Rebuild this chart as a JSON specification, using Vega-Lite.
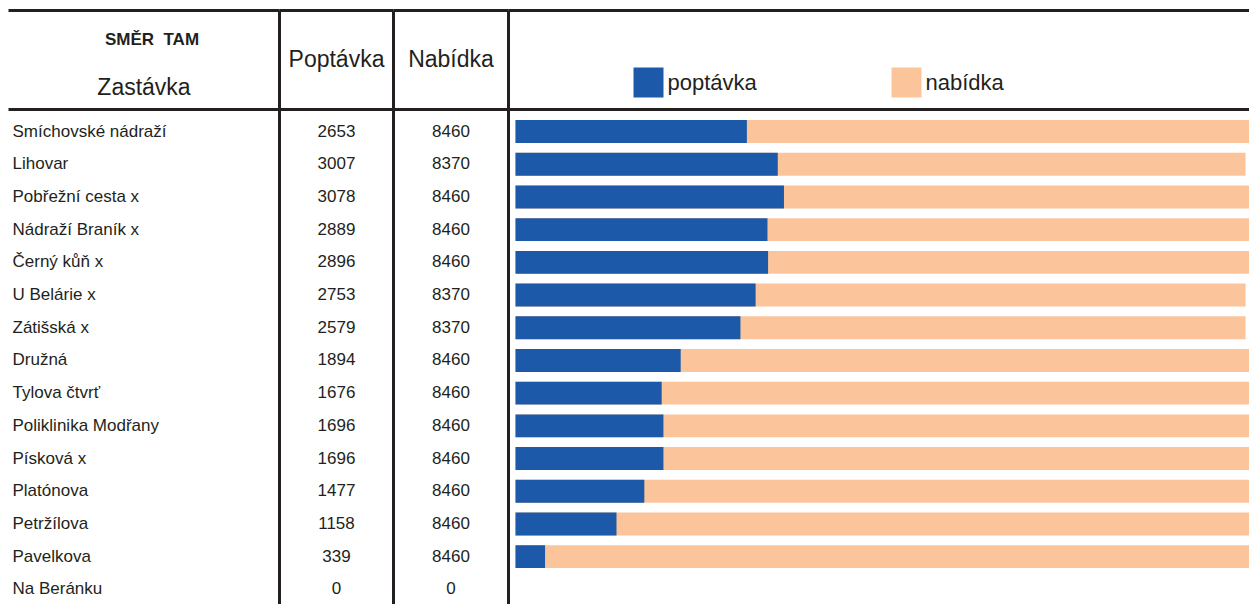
{
  "$schema": "https://vega.github.io/schema/vega-lite/v6.json",
  "padding": {"left": 6.5, "top": 8.5, "right": 0, "bottom": 0},
  "background": "white",
  "config": {
    "view": {"stroke": null},
    "font": "Liberation Sans",
    "text": {"color": "#231f20", "font": "Liberation Sans"},
    "rule": {"color": "#231f20", "strokeWidth": 3}
  },
  "datasets": {
    "rows": [
      {"zastavka": "Smíchovské nádraží", "poptavka": 2653, "nabidka": 8460},
      {"zastavka": "Lihovar", "poptavka": 3007, "nabidka": 8370},
      {"zastavka": "Pobřežní cesta x", "poptavka": 3078, "nabidka": 8460},
      {"zastavka": "Nádraží Braník x", "poptavka": 2889, "nabidka": 8460},
      {"zastavka": "Černý kůň x", "poptavka": 2896, "nabidka": 8460},
      {"zastavka": "U Belárie x", "poptavka": 2753, "nabidka": 8370},
      {"zastavka": "Zátišská x", "poptavka": 2579, "nabidka": 8370},
      {"zastavka": "Družná", "poptavka": 1894, "nabidka": 8460},
      {"zastavka": "Tylova čtvrť", "poptavka": 1676, "nabidka": 8460},
      {"zastavka": "Poliklinika Modřany", "poptavka": 1696, "nabidka": 8460},
      {"zastavka": "Písková x", "poptavka": 1696, "nabidka": 8460},
      {"zastavka": "Platónova", "poptavka": 1477, "nabidka": 8460},
      {"zastavka": "Petržílova", "poptavka": 1158, "nabidka": 8460},
      {"zastavka": "Pavelkova", "poptavka": 339, "nabidka": 8460},
      {"zastavka": "Na Beránku", "poptavka": 0, "nabidka": 0}
    ],
    "one": [{}]
  },
  "columns": 4,
  "spacing": 0,
  "bounds": "flush",
  "align": "each",
  "concat": [
    {
      "width": 271, "height": 99,
      "data": {"name": "one"},
      "layer": [
        {"mark": "rule", "encoding": {"y": {"datum": 1, "type": "quantitative", "scale": {"domain": [0, 1]}, "axis": null}}},
        {"mark": "rule", "encoding": {"y": {"datum": 0, "type": "quantitative", "scale": {"domain": [0, 1]}, "axis": null}}},
        {"mark": {"type": "text", "text": "SMĚR\u00a0\u00a0TAM", "fontSize": 17, "fontWeight": "bold", "baseline": "middle", "dx": 8},
         "encoding": {"y": {"datum": 0.707, "type": "quantitative", "scale": {"domain": [0, 1]}, "axis": null}}},
        {"mark": {"type": "text", "text": "Zastávka", "fontSize": 23, "baseline": "middle"},
         "encoding": {"y": {"datum": 0.217, "type": "quantitative", "scale": {"domain": [0, 1]}, "axis": null}}}
      ]
    },
    {
      "width": 114, "height": 99,
      "data": {"name": "one"},
      "layer": [
        {"mark": "rule", "encoding": {"y": {"datum": 1, "type": "quantitative", "scale": {"domain": [0, 1]}, "axis": null}}},
        {"mark": "rule", "encoding": {"y": {"datum": 0, "type": "quantitative", "scale": {"domain": [0, 1]}, "axis": null}}},
        {"mark": "rule", "encoding": {"x": {"datum": 0, "type": "quantitative", "scale": {"domain": [0, 1]}, "axis": null}}},
        {"mark": {"type": "text", "text": "Poptávka", "fontSize": 23, "baseline": "middle"},
         "encoding": {"y": {"datum": 0.495, "type": "quantitative", "scale": {"domain": [0, 1]}, "axis": null}}}
      ]
    },
    {
      "width": 115, "height": 99,
      "data": {"name": "one"},
      "layer": [
        {"mark": "rule", "encoding": {"y": {"datum": 1, "type": "quantitative", "scale": {"domain": [0, 1]}, "axis": null}}},
        {"mark": "rule", "encoding": {"y": {"datum": 0, "type": "quantitative", "scale": {"domain": [0, 1]}, "axis": null}}},
        {"mark": "rule", "encoding": {"x": {"datum": 0, "type": "quantitative", "scale": {"domain": [0, 1]}, "axis": null}}},
        {"mark": "rule", "encoding": {"x": {"datum": 1, "type": "quantitative", "scale": {"domain": [0, 1]}, "axis": null}}},
        {"mark": {"type": "text", "text": "Nabídka", "fontSize": 23, "baseline": "middle"},
         "encoding": {"y": {"datum": 0.495, "type": "quantitative", "scale": {"domain": [0, 1]}, "axis": null}}}
      ]
    },
    {
      "width": 741, "height": 99,
      "data": {"name": "one"},
      "layer": [
        {"mark": "rule", "encoding": {"y": {"datum": 1, "type": "quantitative", "scale": {"domain": [0, 1]}, "axis": null}}},
        {"mark": "rule", "encoding": {"y": {"datum": 0, "type": "quantitative", "scale": {"domain": [0, 1]}, "axis": null}}}
      ]
    },
    {
      "width": 271, "height": 495,
      "data": {"name": "rows"},
      "mark": {"type": "text", "fontSize": 17, "align": "left", "baseline": "middle", "dx": 4},
      "encoding": {
        "y": {"field": "zastavka", "type": "nominal", "sort": null, "axis": null,
              "scale": {"type": "band", "paddingInner": 0.3, "paddingOuter": 0.219, "align": 0.74}},
        "x": {"datum": 0, "type": "quantitative", "scale": {"domain": [0, 1]}, "axis": null},
        "text": {"field": "zastavka", "type": "nominal"}
      }
    },
    {
      "width": 114, "height": 495,
      "data": {"name": "rows"},
      "layer": [
        {"data": {"name": "one"}, "mark": "rule", "encoding": {"x": {"datum": 0, "type": "quantitative", "scale": {"domain": [0, 1]}, "axis": null}}},
        {"mark": {"type": "text", "fontSize": 17, "baseline": "middle"},
         "encoding": {
           "y": {"field": "zastavka", "type": "nominal", "sort": null, "axis": null,
                 "scale": {"type": "band", "paddingInner": 0.3, "paddingOuter": 0.219, "align": 0.74}},
           "text": {"field": "poptavka", "type": "quantitative", "format": "d"}
         }}
      ]
    },
    {
      "width": 115, "height": 495,
      "data": {"name": "rows"},
      "layer": [
        {"data": {"name": "one"}, "mark": "rule", "encoding": {"x": {"datum": 0, "type": "quantitative", "scale": {"domain": [0, 1]}, "axis": null}}},
        {"data": {"name": "one"}, "mark": "rule", "encoding": {"x": {"datum": 1, "type": "quantitative", "scale": {"domain": [0, 1]}, "axis": null}}},
        {"mark": {"type": "text", "fontSize": 17, "baseline": "middle"},
         "encoding": {
           "y": {"field": "zastavka", "type": "nominal", "sort": null, "axis": null,
                 "scale": {"type": "band", "paddingInner": 0.3, "paddingOuter": 0.219, "align": 0.74}},
           "text": {"field": "nabidka", "type": "quantitative", "format": "d"}
         }}
      ]
    },
    {
      "width": 741, "height": 495,
      "data": {"name": "rows"},
      "encoding": {
        "y": {"field": "zastavka", "type": "nominal", "sort": null, "axis": null,
              "scale": {"type": "band", "paddingInner": 0.3, "paddingOuter": 0.219, "align": 0.74}}
      },
      "layer": [
        {"mark": {"type": "bar", "clip": true},
         "encoding": {
           "x": {"field": "nabidka", "type": "quantitative", "axis": null,
                 "scale": {"domain": [-80, 8415], "nice": false, "zero": false}},
           "x2": {"datum": 0},
           "color": {"datum": "nabídka"}
         }},
        {"mark": {"type": "bar", "clip": true},
         "encoding": {
           "x": {"field": "poptavka", "type": "quantitative"},
           "x2": {"datum": 0},
           "color": {"datum": "poptávka", "type": "nominal",
                     "scale": {"domain": ["poptávka", "nabídka"], "range": ["#1c5aa9", "#fbc49b"]},
                     "legend": {"title": null, "orient": "none", "legendX": 625, "legendY": 57,
                                "direction": "horizontal", "symbolType": "square", "symbolSize": 900,
                                "symbolStrokeWidth": 0, "symbolOpacity": 1, "labelFontSize": 22,
                                "labelFont": "Liberation Sans", "labelColor": "#231f20", "labelOffset": 4,
                                "columnPadding": 134, "padding": 0}}
         }}
      ]
    }
  ]
}
